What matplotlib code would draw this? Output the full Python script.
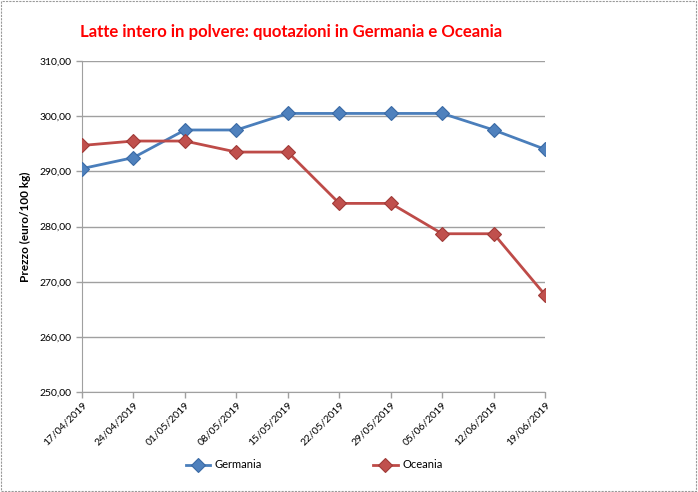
import matplotlib
matplotlib.use("Agg")
import matplotlib.pyplot as plt
from matplotlib.patches import Rectangle

# ── data ─────────────────────────────────────────────────────────────────────
DATES = ["17/04/2019", "24/04/2019", "01/05/2019", "08/05/2019", "15/05/2019",
         "22/05/2019", "29/05/2019", "05/06/2019", "12/06/2019", "19/06/2019"]
GERMANIA = [290.5, 292.5, 297.5, 297.5, 300.5, 300.5, 300.5, 300.5, 297.5, 294.0]
OCEANIA = [294.7, 295.5, 295.5, 293.5, 293.5, 284.2, 284.2, 278.7, 278.7, 267.6]
YTICKS = [250, 260, 270, 280, 290, 300, 310]

plt.rcParams["font.family"] = ["Lato", "DejaVu Sans"]

fig = plt.figure(figsize=(6.98, 4.92), dpi=100)
ax = fig.add_axes([0.1175, 0.203, 0.6635, 0.673])

x = list(range(len(DATES)))
ax.plot(x, GERMANIA, color="#4A7EBB", lw=2.0, marker="D", markersize=7,
        markerfacecolor="#4F81BD", markeredgecolor="#3A6AA5", markeredgewidth=0.8,
        label="Germania", zorder=3)
ax.plot(x, OCEANIA, color="#BE4B48", lw=2.0, marker="D", markersize=7,
        markerfacecolor="#C0504D", markeredgecolor="#A03A37", markeredgewidth=0.8,
        label="Oceania", zorder=3)

ax.set_xlim(0, len(DATES) - 1)
ax.set_ylim(250, 310)
ax.set_yticks(YTICKS)
ax.set_yticklabels([f"{v:.2f}".replace(".", ",") for v in YTICKS], fontsize=7.5)
ax.set_xticks(x)
ax.set_xticklabels(DATES, rotation=45, ha="right", rotation_mode="anchor", fontsize=7.5)
ax.yaxis.grid(True, color="#a0a0a0", lw=1.0)
ax.set_axisbelow(True)
for s in ("top", "right"):
    ax.spines[s].set_visible(False)
for s in ("left", "bottom"):
    ax.spines[s].set_color("#a0a0a0")
ax.tick_params(axis="both", colors="#a0a0a0", labelcolor="black", length=4, width=1)
ax.tick_params(axis="x", pad=2)
ax.set_ylabel("Prezzo (euro/100 kg)", fontsize=8.5, fontweight="bold", labelpad=6)

fig.text(0.115, 0.935, "Latte intero in polvere: quotazioni in Germania e Oceania",
         color="#FF0000", fontsize=12.1, fontweight="bold", ha="left", va="center")

fig.legend(loc="center", bbox_to_anchor=(0.45, 0.055), ncol=2, frameon=False,
           fontsize=8, columnspacing=10, handlelength=2.2, handletextpad=0.4)

fig.patches.append(Rectangle((0.002, 0.003), 0.995, 0.994, transform=fig.transFigure,
                             fill=False, ec="#9a9a9a", ls=(0, (2, 1)), lw=0.8))

fig.savefig("out.png", dpi=100)
